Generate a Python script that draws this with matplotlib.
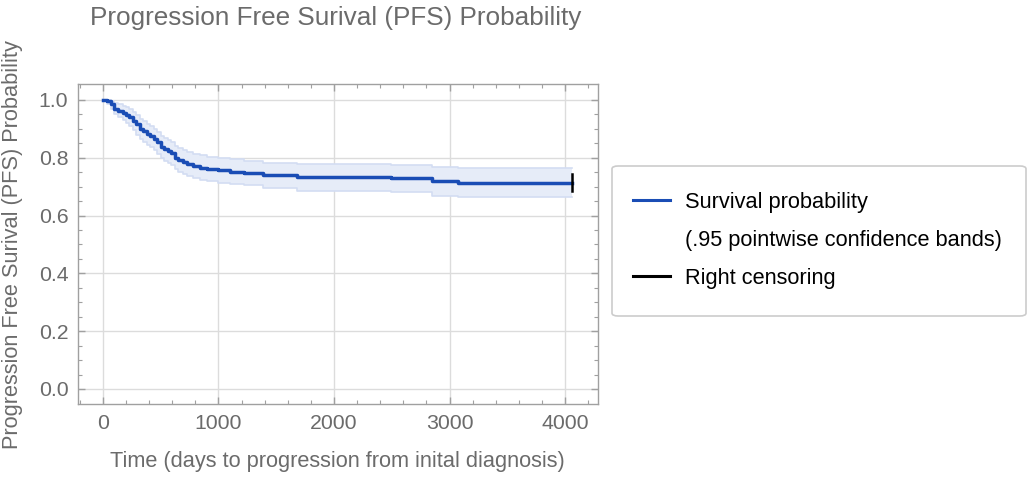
import matplotlib
matplotlib.use("Agg")
import matplotlib.pyplot as plt
from matplotlib.lines import Line2D
from matplotlib.patches import FancyBboxPatch

plt.rcParams['font.family'] = ['Liberation Sans', 'DejaVu Sans']

# Kaplan-Meier estimate (step values, post)
days = [0, 40, 70, 100, 130, 170, 200, 230, 260, 290, 320, 350, 380, 410, 440,
        470, 500, 530, 560, 590, 620, 650, 690, 730, 780, 840, 900, 1000, 1100,
        1220, 1390, 1680, 2490, 2850, 3070, 4060]
surv = [1.0, 0.995, 0.985, 0.97, 0.963, 0.956, 0.948, 0.94, 0.928, 0.915, 0.9,
        0.892, 0.882, 0.874, 0.865, 0.853, 0.838, 0.83, 0.822, 0.815, 0.8, 0.792,
        0.785, 0.778, 0.772, 0.765, 0.76, 0.756, 0.752, 0.747, 0.739, 0.732,
        0.729, 0.719, 0.714, 0.714]
upper = [1.0, 1.0, 0.997, 0.99, 0.985, 0.98, 0.975, 0.968, 0.958, 0.948, 0.935,
         0.927, 0.918, 0.91, 0.9, 0.89, 0.876, 0.868, 0.86, 0.853, 0.84, 0.832,
         0.826, 0.82, 0.814, 0.808, 0.803, 0.799, 0.795, 0.79, 0.783, 0.777,
         0.775, 0.768, 0.763, 0.763]
lower = [1.0, 0.985, 0.97, 0.95, 0.94, 0.93, 0.92, 0.91, 0.895, 0.88, 0.864,
         0.855, 0.845, 0.836, 0.826, 0.814, 0.799, 0.79, 0.782, 0.775, 0.76, 0.752,
         0.745, 0.737, 0.73, 0.723, 0.718, 0.713, 0.709, 0.704, 0.696, 0.686,
         0.682, 0.669, 0.663, 0.663]
censor_day = 4060

blue = '#1a4db5'
band = '#e6ecf8'
band_edge = '#d3ddf2'
gray_txt = '#6b6b6b'
frame_col = '#a0a0a0'

fig = plt.figure(figsize=(10.28, 4.82), dpi=100)
ax = fig.add_axes([0.0759, 0.1618, 0.5058, 0.6639])

ax.fill_between(days, lower, upper, step='post', color=band, lw=0, zorder=2)
ax.step(days, upper, where='post', color=band_edge, lw=1.2, zorder=2)
ax.step(days, lower, where='post', color=band_edge, lw=1.2, zorder=2)
ax.step(days, surv, where='post', color=blue, lw=2.5, zorder=3)
ax.plot([censor_day, censor_day], [surv[-1] - 0.028, surv[-1] + 0.028],
        color='black', lw=1.8, zorder=4)

ax.set_xlim(-215, 4285)
ax.set_ylim(-0.052, 1.055)
ax.set_xticks([0, 1000, 2000, 3000, 4000])
ax.set_xticks(range(-200, 4201, 200), minor=True)
ax.set_yticks([0.0, 0.2, 0.4, 0.6, 0.8, 1.0])
ax.set_yticks([i * 0.05 for i in range(0, 21)], minor=True)
ax.set_yticklabels(['0.0', '0.2', '0.4', '0.6', '0.8', '1.0'])
ax.grid(True, which='major', color='#dcdcdc', lw=1.0, zorder=0)
ax.set_axisbelow(True)

for s in ax.spines.values():
    s.set_color(frame_col)
    s.set_linewidth(1.0)
ax.tick_params(which='both', direction='in', top=True, right=True,
               colors=frame_col, labelcolor=gray_txt, labelsize=15.3)
ax.tick_params(which='major', length=5, width=1.0, pad=7)
ax.tick_params(which='minor', length=3, width=0.8)

fig.text(0.3264, 0.963, 'Progression Free Surival (PFS) Probability',
         ha='center', va='center', fontsize=18.8, color=gray_txt)
fig.text(0.328, 0.043, 'Time (days to progression from inital diagnosis)',
         ha='center', va='center', fontsize=15.7, color=gray_txt)
fig.text(0.012, 0.492, 'Progression Free Surival (PFS) Probability',
         ha='center', va='center', rotation=90, fontsize=15.7, color=gray_txt)

# legend box
box = FancyBboxPatch((612 / 1028, 1 - 316 / 482), 414 / 1028, 150 / 482,
                     boxstyle='round,pad=0,rounding_size=0.006',
                     transform=fig.transFigure, facecolor='white',
                     edgecolor='#cccccc', lw=1.2)
fig.patches.append(box)
handles = [Line2D([], [], color=blue, lw=2.2),
           Line2D([], [], color='none'),
           Line2D([], [], color='black', lw=2.2)]
labels = ['Survival probability', '(.95 pointwise confidence bands)',
          'Right censoring']
fig.legend(handles, labels, loc='upper left',
           bbox_to_anchor=(633 / 1028, 1 - 192 / 482), frameon=False,
           fontsize=15.7, handlelength=1.7, handletextpad=0.7,
           labelspacing=0.78, borderpad=0, borderaxespad=0)

fig.savefig('out.png', dpi=100)
